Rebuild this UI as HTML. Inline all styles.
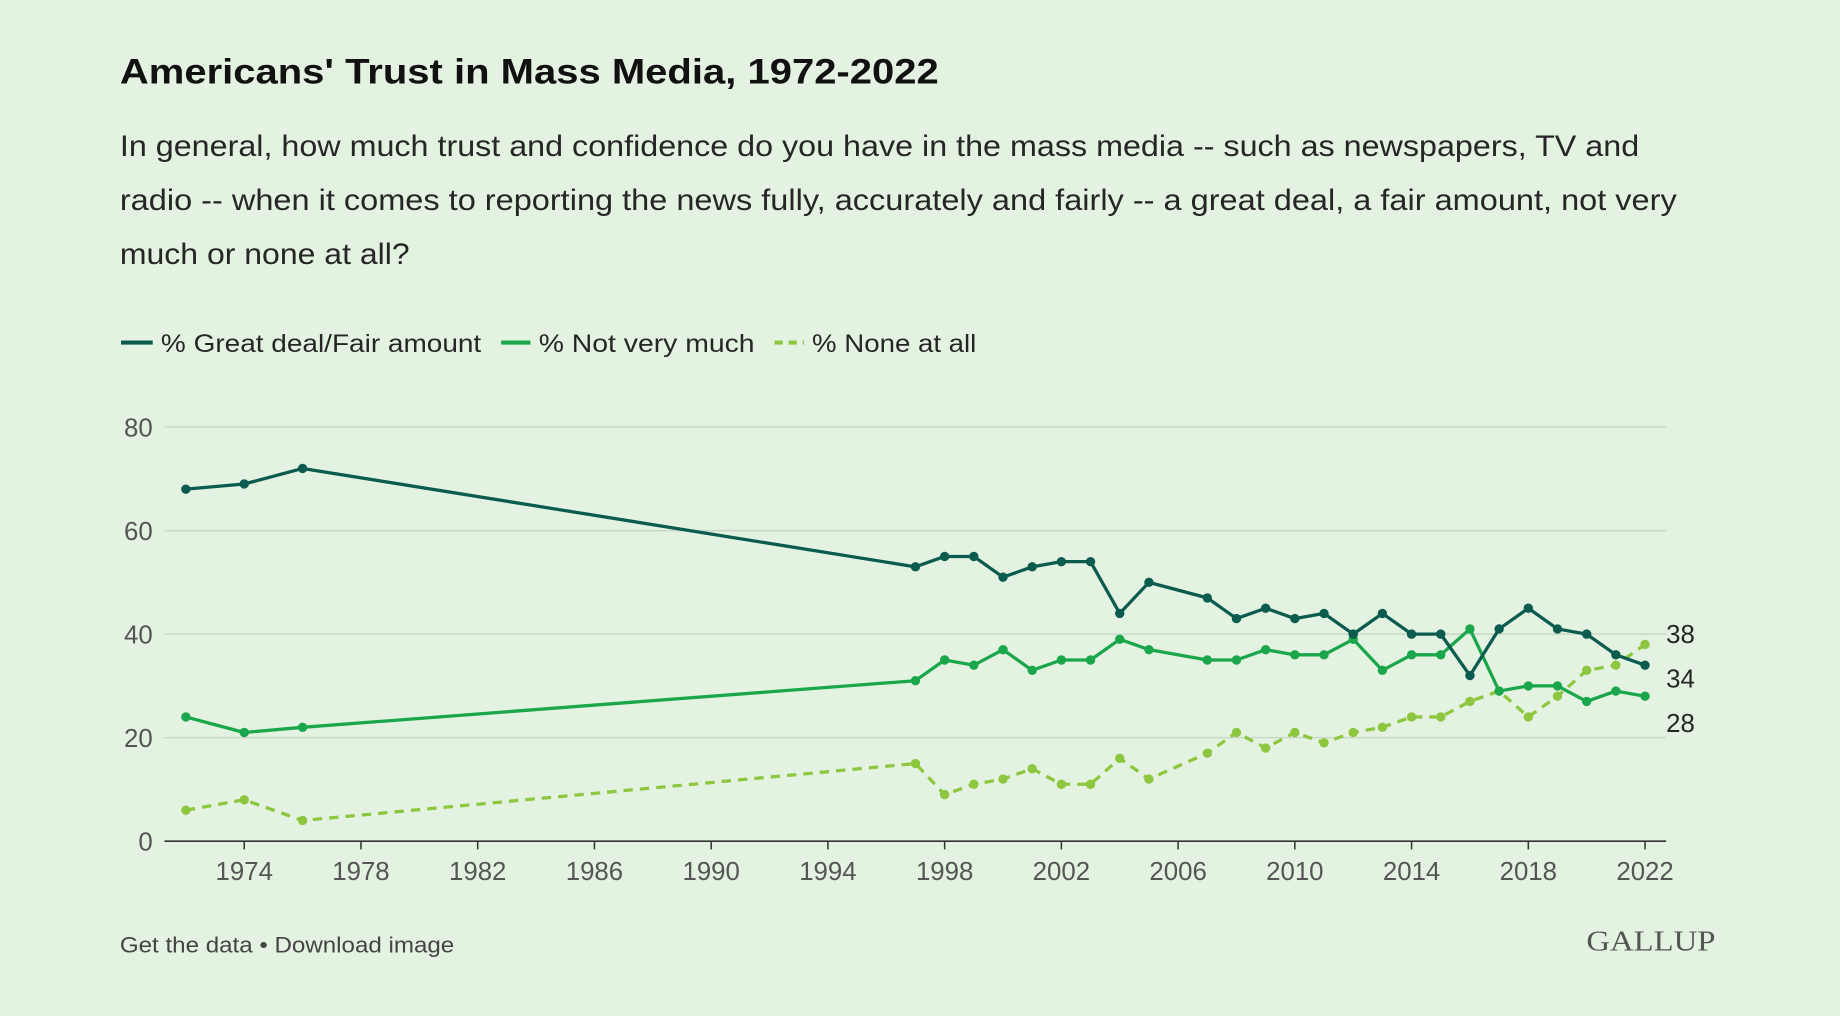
<!DOCTYPE html>
<html><head><meta charset="utf-8"><style>
html,body{margin:0;padding:0;background:#e4f3e1;}
svg{display:block;font-family:"Liberation Sans",sans-serif;}
</style></head><body>
<svg id="s" width="1840" height="1016" viewBox="0 0 1568 866" xmlns="http://www.w3.org/2000/svg">
<rect width="1568" height="866" fill="#e4f3e1"/>
<text x="102" y="71" font-size="30" font-weight="bold" fill="#111" textLength="698" lengthAdjust="spacingAndGlyphs">Americans' Trust in Mass Media, 1972-2022</text>
<g font-size="25" fill="#262626">
<text x="102" y="133" textLength="1295" lengthAdjust="spacingAndGlyphs">In general, how much trust and confidence do you have in the mass media -- such as newspapers, TV and</text>
<text x="102" y="179" textLength="1327" lengthAdjust="spacingAndGlyphs">radio -- when it comes to reporting the news fully, accurately and fairly -- a great deal, a fair amount, not very</text>
<text x="102" y="225" textLength="247" lengthAdjust="spacingAndGlyphs">much or none at all?</text>
</g>
<g font-size="21.5" fill="#262626">
<line x1="103" y1="292" x2="130" y2="292" stroke="#0b5c4f" stroke-width="3.5"/>
<text x="137" y="300" textLength="273" lengthAdjust="spacingAndGlyphs">% Great deal/Fair amount</text>
<line x1="427" y1="292" x2="452" y2="292" stroke="#1aa64a" stroke-width="3.5"/>
<text x="459" y="300" textLength="184" lengthAdjust="spacingAndGlyphs">% Not very much</text>
<line x1="660" y1="292" x2="685" y2="292" stroke="#8dc63f" stroke-width="3.5" stroke-dasharray="7,5"/>
<text x="692" y="300" textLength="140" lengthAdjust="spacingAndGlyphs">% None at all</text>
</g>
<g id="grid"></g>
<g id="series"></g>
<text x="102" y="812" font-size="19" fill="#444" textLength="285" lengthAdjust="spacingAndGlyphs">Get the data • Download image</text>
<text x="1352" y="810" font-size="24" fill="#555" font-family="Liberation Serif,serif" textLength="110" lengthAdjust="spacingAndGlyphs">GALLUP</text>
</svg>
<script>
var NS="http://www.w3.org/2000/svg";
function el(p,t,a,txt){var e=document.createElementNS(NS,t);for(var k in a)e.setAttribute(k,a[k]);if(txt!=null)e.textContent=txt;p.appendChild(e);return e;}
function X(y){return 208+(y-1974)*24.875;}
function Y(v){return 717-v*4.4125;}
var g=document.getElementById('grid');
[0,20,40,60,80].forEach(function(v){
 el(g,'line',{x1:140,x2:1420,y1:Y(v),y2:Y(v),stroke:v==0?'#333':'#c9d8c6','stroke-width':1.3});
 el(g,'text',{x:130,y:Y(v)+8,'text-anchor':'end','font-size':22,fill:'#555'},v);
});
for(var yr=1974;yr<=2022;yr+=4){
 el(g,'line',{x1:X(yr),x2:X(yr),y1:717,y2:724,stroke:'#333','stroke-width':1.3});
 el(g,'text',{x:X(yr),y:750,'text-anchor':'middle','font-size':22,fill:'#555'},yr);
}
var yrs=[1972,1974,1976,1997,1998,1999,2000,2001,2002,2003,2004,2005,2007,2008,2009,2010,2011,2012,2013,2014,2015,2016,2017,2018,2019,2020,2021,2022];
var A=[68,69,72,53,55,55,51,53,54,54,44,50,47,43,45,43,44,40,44,40,40,32,41,45,41,40,36,34];
var B=[24,21,22,31,35,34,37,33,35,35,39,37,35,35,37,36,36,39,33,36,36,41,29,30,30,27,29,28];
var C=[6,8,4,15,9,11,12,14,11,11,16,12,17,21,18,21,19,21,22,24,24,27,29,24,28,33,34,38];
var s=document.getElementById('series');
function draw(d,c,dash){
 var pts=d.map(function(v,i){return X(yrs[i])+','+Y(v);}).join(' ');
 var a={points:pts,fill:'none',stroke:c,'stroke-width':2.8,'stroke-linejoin':'round'};
 if(dash)a['stroke-dasharray']='8,6';
 el(s,'polyline',a);
 d.forEach(function(v,i){el(s,'circle',{cx:X(yrs[i]),cy:Y(v),r:4,fill:c});});
}
draw(C,'#8dc63f',true);
draw(B,'#1aa64a',false);
draw(A,'#0b5c4f',false);
el(s,'text',{x:1420,y:548,'font-size':22,fill:'#262626'},'38');
el(s,'text',{x:1420,y:586,'font-size':22,fill:'#262626'},'34');
el(s,'text',{x:1420,y:624,'font-size':22,fill:'#262626'},'28');
</script>
</body></html>
